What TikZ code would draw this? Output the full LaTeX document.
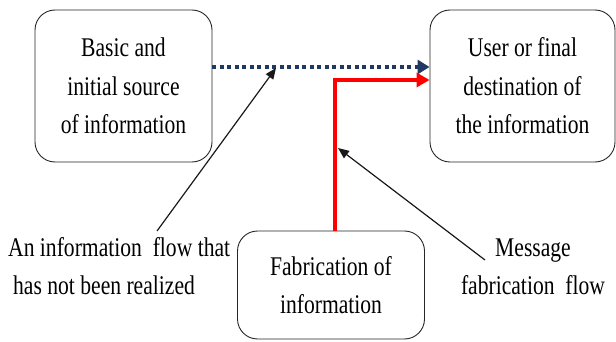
\documentclass[tikz,border=0pt]{standalone}
\usepackage{fontspec}
\setmainfont[FakeStretch=0.8]{Liberation Serif}
\usetikzlibrary{arrows.meta}
\definecolor{flownavy}{RGB}{31,56,100}
\newcommand{\labelfont}{\fontsize{27}{38.5}\selectfont}
\begin{document}
\begin{tikzpicture}[x=1pt,y=-1pt,
  infobox/.style={draw=black!85, line width=0.9pt, rounded corners=20pt,
    align=center, font=\labelfont, inner sep=0pt},
  note/.style={font=\labelfont, inner sep=0pt},
  pointer/.style={draw=black!90, line width=1.2pt,
    -{Triangle[length=11pt,width=9pt]}},
  planned/.style={draw=flownavy, line width=4.5pt, dash pattern=on 4pt off 3.5pt,
    -{Triangle[length=12pt,width=14pt]}},
  fabricated/.style={draw=red, line width=4.2pt,
    -{Triangle[length=13pt,width=14pt]}}]
\useasboundingbox (0,0) rectangle (616,342);

% the three parties
\node[infobox, minimum width=177pt, minimum height=152pt] (src) at (123.5,86)
  {Basic and\\initial source\\of information};
\node[infobox, minimum width=185pt, minimum height=152pt] (dest) at (522.5,86)
  {User or final\\destination of\\the information};
\node[infobox, minimum width=187pt, minimum height=108pt] (fab) at (331,285)
  {Fabrication of\\information};

% explanatory labels
\node[note, align=left, anchor=west] (lblplanned) at (8,266)
  {An information\ \ flow that\\\hspace{5pt}has not been realized};
\node[note, align=center] (lblfab) at (533,267)
  {Message\\fabrication\ \ flow};

% the flows
\coordinate (dotline) at (0,67);
\coordinate (bend) at (335,80);
\draw[planned] (src.east |- dotline) -- (dest.west |- dotline);
\draw[fabricated] (bend |- fab.north) -- (bend) -- (bend -| dest.west);

% pointers from the labels to the flows
\coordinate (p1start) at (157,231);
\coordinate (p1tip) at (276,68);
\coordinate (p2start) at (485,260);
\coordinate (p2tip) at (338,148);
\draw[pointer] (p1start) -- (p1tip);
\draw[pointer] (p2start) -- (p2tip);
\end{tikzpicture}
\end{document}
